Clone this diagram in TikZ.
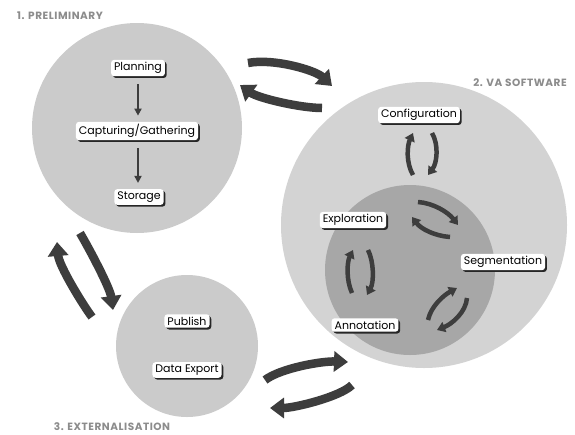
\documentclass[tikz,border=0pt]{standalone}
\usepackage{fontspec}
\setmainfont{Poppins}
\newfontfamily\phasefont[LetterSpace=5]{Poppins}
\usetikzlibrary{arrows.meta,shadows}
\definecolor{circA}{HTML}{CBCBCB}
\definecolor{circB}{HTML}{D3D3D3}
\definecolor{circIn}{HTML}{A7A7A7}
\definecolor{arr}{HTML}{3D3D3D}
\definecolor{lab}{HTML}{8C8C8C}
\tikzset{
  blob/.style={circle, inner sep=0pt, draw=none},
  tag/.style={fill=white, rounded corners=3pt, inner xsep=3pt, inner ysep=2.5pt,
    font=\fontsize{11}{12}\selectfont, text=black,
    general shadow={shadow xshift=1.8pt, shadow yshift=-1.8pt, fill=black!85}},
  phase/.style={font=\phasefont\fontsize{10.5}{11}\selectfont\bfseries, text=lab},
  bigarr/.style={draw=arr, line width=8.5pt, -{Triangle[length=14pt,width=20pt]}},
  smallarr/.style={draw=arr, line width=4.5pt, -{Triangle[length=8pt,width=10.5pt]}},
  downarr/.style={draw=arr, line width=2pt, -{Triangle[length=7pt,width=7pt]}}
}
\begin{document}
\begin{tikzpicture}[x=1pt,y=-1pt]
\useasboundingbox (0,0) rectangle (575,434);
\fill[white] (0,0) rectangle (575,434);
% circles
\node[blob, fill=circA, minimum size=210pt] (c1) at (137,128) {};
\node[blob, fill=circB, minimum size=286pt] (c2) at (424,225) {};
\node[blob, fill=circIn, minimum size=170pt] (c2in) at (410,270) {};
\node[blob, fill=circA, minimum size=142pt] (c3) at (187,346) {};
% phase labels
\node[phase] (l1) at (60,16) {1. PRELIMINARY};
\node[phase] (l2) at (520,83) {2. VA SOFTWARE};
\node[phase] (l3) at (112,427) {3. EXTERNALISATION};
% tags
\node[tag] (plan) at (138,68) {Planning};
\node[tag] (capt) at (137,131) {Capturing/Gathering};
\node[tag] (stor) at (139,197) {Storage};
\node[tag] (conf) at (419,115) {Configuration};
\node[tag] (expl) at (353,220) {Exploration};
\node[tag] (segm) at (503,262) {Segmentation};
\node[tag] (anno) at (365,325) {Annotation};
\node[tag] (publ) at (187,321) {Publish};
\node[tag] (dexp) at (187,370) {Data Export};
% arrows inside preliminary
\draw[downarr] ([yshift=-8pt]plan.south) -- ([yshift=6pt]plan.south |- capt.north);
\draw[downarr] ([yshift=-8pt]plan.south |- capt.south) -- ([yshift=6pt]plan.south |- stor.north);
% coordinates for big arrows
\coordinate (a1s) at (248,63);  \coordinate (a1e) at (332,86);
\coordinate (a2s) at (322,108); \coordinate (a2e) at (240,85);
\coordinate (b1s) at (80,233);  \coordinate (b1e) at (113,310);
\coordinate (b2s) at (92,317);  \coordinate (b2e) at (57,242);
\coordinate (d1s) at (265,380); \coordinate (d1e) at (348,362);
\coordinate (d2s) at (352,385); \coordinate (d2e) at (270,408);
\draw[bigarr] (a1s) .. controls (273,58) and (315,70) .. (a1e);
\draw[bigarr] (a2s) .. controls (300,108) and (258,98) .. (a2e);
\draw[bigarr] (b1s) .. controls (90,250) and (110,288) .. (b1e);
\draw[bigarr] (b2s) .. controls (83,305) and (59,266) .. (b2e);
\draw[bigarr] (d1s) .. controls (281,368) and (322,361) .. (d1e);
\draw[bigarr] (d2s) .. controls (340,397) and (294,408) .. (d2e);
% small arrows inside VA software
\coordinate (e1s) at (413,175); \coordinate (e1e) at (413,133);
\coordinate (e2s) at (432,133); \coordinate (e2e) at (428,175);
\coordinate (f1s) at (418,202); \coordinate (f1e) at (458,225);
\coordinate (f2s) at (450,237); \coordinate (f2e) at (412,217);
\coordinate (g1s) at (352,293); \coordinate (g1e) at (353,250);
\coordinate (g2s) at (368,250); \coordinate (g2e) at (367,295);
\coordinate (h1s) at (428,320); \coordinate (h1e) at (457,288);
\coordinate (h2s) at (467,298); \coordinate (h2e) at (437,330);
\draw[smallarr] (e1s) .. controls (406,163) and (407,146) .. (e1e);
\draw[smallarr] (e2s) .. controls (439,145) and (437,163) .. (e2e);
\draw[smallarr] (f1s) .. controls (433,203) and (448,212) .. (f1e);
\draw[smallarr] (f2s) .. controls (435,236) and (421,229) .. (f2e);
\draw[smallarr] (g1s) .. controls (346,280) and (347,262) .. (g1e);
\draw[smallarr] (g2s) .. controls (374,262) and (374,282) .. (g2e);
\draw[smallarr] (h1s) .. controls (431,306) and (444,295) .. (h1e);
\draw[smallarr] (h2s) .. controls (466,312) and (452,324) .. (h2e);
\end{tikzpicture}
\end{document}
